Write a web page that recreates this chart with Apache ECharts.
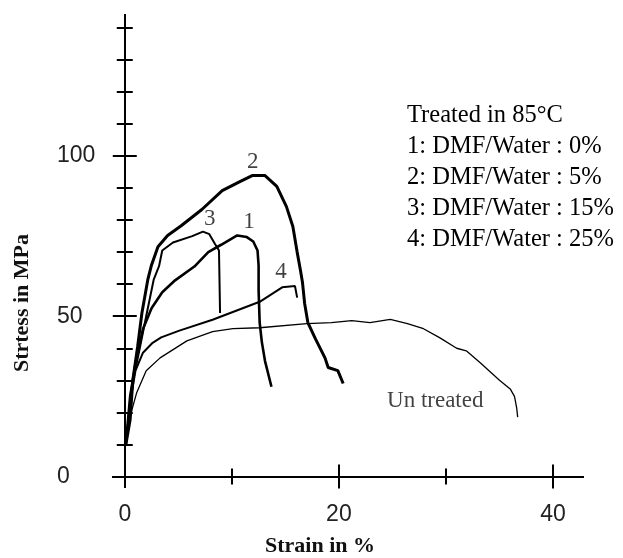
<!DOCTYPE html>
<html lang="en">

<head>
  <meta charset="UTF-8" />
  <title>Stress-strain</title>
  <style>
    html, body { margin: 0; padding: 0; background: #fff; }
  </style>
</head>

<body>
  <div id="main" style="width: 623px; height: 558px;"></div>
  <script src="https://cdn.jsdelivr.net/npm/echarts@6.0.0/dist/echarts.min.js"></script>
  <script type="text/javascript">
    // strain (%), stress (MPa)
    const curve1 = [[0.1, 10], [0.5, 25], [1.1, 37], [1.7, 46], [2.5, 52.5], [3.5, 57.5], [4.7, 61.2], [6.5, 65.5], [7.8, 70], [9.0, 72.3], [10.5, 75.2], [11.4, 74.7], [12, 73.3], [12.4, 70.5], [12.5, 65.8], [12.5, 58], [12.6, 48], [12.8, 42], [13.1, 36], [13.7, 28]]
    const curve2 = [[0.1, 10], [0.5, 17.7], [0.75, 30], [1.2, 40.5], [1.6, 51], [2.15, 61.4], [2.5, 66], [3.1, 71.7], [4.0, 75.2], [5.3, 78.3], [7.2, 83.3], [9.1, 89.2], [10.75, 92], [11.9, 93.9], [13.1, 93.9], [14.2, 90.5], [15.1, 84.2], [15.7, 78], [16.1, 70], [16.4, 64.5], [16.6, 60.5], [16.8, 54], [17.1, 48], [17.8, 43], [18.7, 37], [19, 34], [19.9, 33], [20.4, 29]]
    const curve3 = [[0.1, 10], [0.6, 27], [1.4, 40], [2.0, 50], [2.7, 61.4], [3.2, 65.6], [3.5, 70.5], [4.5, 73], [6.3, 75], [7.3, 76.4], [7.9, 75.6], [8.4, 72.7], [8.8, 70.5], [8.9, 51]]
    const curve4 = [[0.1, 10], [0.6, 25], [1.0, 33], [1.7, 38.6], [2.6, 41.7], [3.4, 43.4], [5.1, 45.5], [8.2, 48.9], [12.6, 54.5], [14.7, 59], [15.9, 59.4], [16.1, 55.8]]
    const untreated = [[0.1, 10], [0.6, 20], [1.1, 26], [2.0, 33], [3.3, 37], [5.8, 42.3], [8.2, 45.2], [10.1, 46.1], [12.6, 46.4], [17.0, 47.7], [19.3, 48], [21.2, 48.6], [22.9, 48], [24.8, 49], [26.4, 47.7], [27.9, 46.1], [29.4, 43.3], [31.0, 40], [31.9, 39.2], [33.2, 35.5], [35.0, 30], [36.0, 27.3], [36.4, 25], [36.6, 21.5], [36.7, 18.5]]

    // curve tags placed in data space
    const curveTags = [
      { name: '1', value: [11.6, 79.4] },
      { name: '2', value: [11.96, 98.1] },
      { name: '3', value: [7.94, 80.5] },
      { name: '4', value: [14.6, 63.8] },
      { name: 'Un treated', value: [29.0, 23.6] }
    ]

    const xLabels = [0, 20, 40]
    const xMajorTicks = [20, 40]
    const xMinorTicks = [10, 30]
    const yLabels = [0, 50, 100]
    const yMajorTicks = [50, 100]
    const yMinorTicks = [10, 20, 30, 40, 60, 70, 80, 90, 110, 120, 130, 140]

    const legendLines = [
      'Treated in 85°C',
      '1: DMF/Water : 0%',
      '2: DMF/Water : 5%',
      '3: DMF/Water : 15%',
      '4: DMF/Water : 25%'
    ]

    const X_MIN = -1.1, X_MAX = 42.8
    const Y_MIN = -3.3, Y_MAX = 144

    function tickAxis(pos, min, max, values, len, inside) {
      return {
        type: 'value', position: pos, min: min, max: max,
        splitLine: { show: false },
        axisLabel: { show: false },
        axisLine: { show: true, onZero: true, onZeroAxisIndex: 0, lineStyle: { color: '#000', width: 2 } },
        axisTick: { show: true, customValues: values, length: len, inside: inside, lineStyle: { color: '#000', width: 2 } }
      }
    }

    const myChart = echarts.init(document.getElementById('main'))

    const option = {
      animation: false,
      backgroundColor: '#fff',
      grid: { left: 113, right: 40, top: 15, bottom: 71, containLabel: false, outerBoundsMode: 'none' },
      xAxis: [
        {
          type: 'value', position: 'bottom', min: X_MIN, max: X_MAX,
          splitLine: { show: false },
          axisLine: { show: false, onZero: false },
          axisTick: { show: false },
          axisLabel: { show: true, customValues: xLabels, margin: 16, color: '#222', fontFamily: 'Liberation Sans', fontSize: 23 }
        },
        tickAxis('bottom', X_MIN, X_MAX, xMajorTicks, 12, false),
        tickAxis('bottom', X_MIN, X_MAX, xMajorTicks, 12, true),
        tickAxis('bottom', X_MIN, X_MAX, xMinorTicks, 8, false),
        tickAxis('bottom', X_MIN, X_MAX, xMinorTicks, 8, true)
      ],
      yAxis: [
        {
          type: 'value', position: 'left', min: Y_MIN, max: Y_MAX,
          splitLine: { show: false },
          axisLine: { show: false, onZero: false },
          axisTick: { show: false },
          axisLabel: { show: true, customValues: yLabels, margin: 56, align: 'left', padding: [5, 0, 0, 0], color: '#222', fontFamily: 'Liberation Sans', fontSize: 23 }
        },
        tickAxis('left', Y_MIN, Y_MAX, yMajorTicks, 12, false),
        tickAxis('left', Y_MIN, Y_MAX, yMajorTicks, 12, true),
        tickAxis('left', Y_MIN, Y_MAX, yMinorTicks, 8, false),
        tickAxis('left', Y_MIN, Y_MAX, yMinorTicks, 8, true)
      ],
      series: [
        { type: 'line', data: untreated, showSymbol: false, lineStyle: { color: '#000', width: 1.3 } },
        { type: 'line', data: curve4, showSymbol: false, lineStyle: { color: '#000', width: 2 } },
        { type: 'line', data: curve3, showSymbol: false, lineStyle: { color: '#000', width: 2 } },
        { type: 'line', data: curve1, showSymbol: false, lineStyle: { color: '#000', width: 2.6 } },
        { type: 'line', data: curve2, showSymbol: false, lineStyle: { color: '#000', width: 3 } },
        {
          type: 'scatter', data: curveTags, symbolSize: 0, silent: true,
          label: {
            show: true, position: 'inside', formatter: '{b}', color: '#111',
            fontFamily: 'Liberation Serif', fontSize: 23
          }
        }
      ],
      graphic: [
        {
          type: 'text', left: 407, top: 100,
          style: {
            text: legendLines.join('\n'), fill: '#000', font: '24.5px "Liberation Serif"', lineHeight: 31
          }
        },
        {
          type: 'text', x: 22, y: 303, rotation: Math.PI / 2,
          style: { text: 'Strtess in MPa', fill: '#111', font: 'bold 22px "Liberation Serif"', align: 'center', verticalAlign: 'middle' }
        },
        {
          type: 'text', x: 320, y: 546,
          style: { text: 'Strain in %', fill: '#111', font: 'bold 22px "Liberation Serif"', align: 'center', verticalAlign: 'middle' }
        }
      ]
    }

    myChart.setOption(option)
  </script>
</body>

</html>
